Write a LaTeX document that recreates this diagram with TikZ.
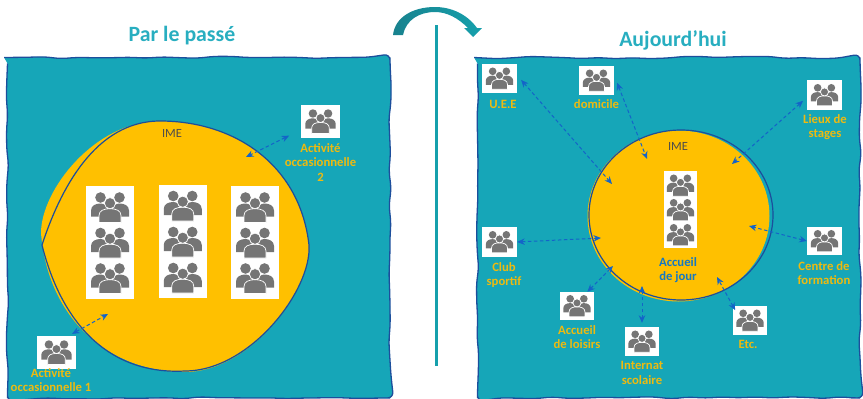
\documentclass[tikz,border=0pt]{standalone}
\usepackage{fontspec}
\setmainfont{Carlito}
\usepackage{tikz}
\usetikzlibrary{arrows.meta}
\usetikzlibrary{decorations.pathmorphing}

\definecolor{panelteal}{RGB}{22,166,184}
\definecolor{titleteal}{RGB}{40,174,192}
\definecolor{turnteal}{RGB}{22,160,172}
\definecolor{turndark}{RGB}{24,130,142}
\definecolor{imeyellow}{RGB}{255,192,0}
\definecolor{labelyellow}{RGB}{238,186,16}
\definecolor{edgeblue}{RGB}{28,78,156}
\definecolor{arrowblue}{RGB}{20,100,200}
\definecolor{icongrey}{RGB}{117,117,117}

\tikzset{people/.pic={
    \fill[icongrey] (-19,9) -- (-19,3) .. controls (-19,-2) and (-14,-4) .. (-9.5,-4) .. controls (-5,-4) and (-3,-1) .. (-3,3) -- (-3,9) -- cycle;
    \fill[icongrey] (19,9) -- (19,3) .. controls (19,-2) and (14,-4) .. (9.5,-4) .. controls (5,-4) and (3,-1) .. (3,3) -- (3,9) -- cycle;
    \fill[icongrey] (-9.5,-10) circle (5.3);
    \fill[icongrey] (9.5,-10) circle (5.3);
    \filldraw[icongrey, draw=white, line width=0.7pt] (-11,15) -- (-11,8) .. controls (-11,3) and (-6,1.2) .. (0,1.2) .. controls (6,1.2) and (11,3) .. (11,8) -- (11,15) -- cycle;
    \filldraw[icongrey, draw=white, line width=0.7pt] (0,-4.3) circle (5.6);
}}

\begin{document}
\begin{tikzpicture}[x=1pt, y=-1pt]
    \def\labeldist{5}
    \tikzstyle{panel}=[fill=panelteal, draw=edgeblue, line width=1.3pt, rounded corners=6pt, decorate, decoration={random steps, segment length=17pt, amplitude=1.2pt}]
    \tikzstyle{heading}=[text=titleteal, font=\fontsize{21.8}{26}\selectfont\bfseries]
    \tikzstyle{iconbox}=[fill=white, inner sep=0pt, minimum width=35pt, minimum height=29pt]
    \tikzstyle{widebox}=[fill=white, inner sep=0pt, minimum width=39pt, minimum height=33pt]
    \tikzstyle{column}=[fill=white, inner sep=0pt, minimum width=48pt, minimum height=113pt]
    \tikzstyle{place}=[text=labelyellow, inner sep=0pt, align=center, anchor=north, font=\fontsize{12.7}{14.5}\selectfont\bfseries]
    \tikzstyle{ime}=[text=black!70, inner sep=0pt, font=\fontsize{12.5}{14}\selectfont]
    \tikzstyle{arrow}=[{Stealth[length=7.5pt, width=6.5pt]}-{Stealth[length=7.5pt, width=6.5pt]}, dash pattern=on 3.5pt off 2.5pt, draw=arrowblue, line width=1pt]

    \useasboundingbox (0,0) rectangle (863,399);
    \pgfmathsetseed{17}

    % panels
    \path[panel] (7.5,57.5) rectangle (390,398);
    \path[panel] (477.5,57.5) rectangle (860,398);

    % turn-over mark
    \shade[left color=turndark, right color=turnteal] (393,35) .. controls (395,17) and (413,7) .. (435,7) .. controls (451,7) and (467,14) .. (477,28) -- (482,28) -- (473,37) -- (464,28) -- (468,28) .. controls (458,18) and (447,12) .. (435,12) .. controls (419,12) and (406,20) .. (403,35) -- cycle;
    \draw[turnteal, line width=3pt] (436,25) -- (436,366);

    % headings
    \node (past) [heading] at (182,36) {Par le passé};
    \node (today) [heading] at (673,40) {Aujourd’hui};

    % IME shapes
    \fill[imeyellow] (41,233) .. controls (41,190) and (95,121) .. (160,121) .. controls (235,121) and (300,165) .. (309,245) .. controls (312,290) and (250,372) .. (185,372) .. controls (110,372) and (48,320) .. (41,233) -- cycle;
    \draw[edgeblue, line width=1.2pt] (42,245) .. controls (60,190) and (95,121) .. (160,121) .. controls (235,121) and (300,165) .. (309,245) .. controls (312,290) and (250,371) .. (185,371) .. controls (110,375) and (62,325) .. (42,245) -- cycle;
    \fill[imeyellow] (678.5,216) ellipse (91 and 85.5);
    \draw[edgeblue, line width=1.2pt] (681,215) ellipse (92 and 85);

    % boxes in the left panel
    \node (col1) [column] at (110,242.5) {};
    \node (col2) [column] at (182.75,241.5) {};
    \node (col3) [column] at (255,242.5) {};
    \node (occ1) [widebox] at (56.5,352.5) {};
    \node (occ2) [widebox] at (320.5,121.5) {};

    % boxes in the right panel
    \node (uee) [iconbox] at (499.5,78.5) {};
    \node (domicile) [iconbox] at (596.5,80.5) {};
    \node (stages) [iconbox, minimum height=30pt] at (824.5,95) {};
    \node (club) [iconbox, minimum height=30pt] at (499.5,242) {};
    \node (formation) [iconbox, minimum height=28pt] at (824.5,241) {};
    \node (loisirs) [iconbox, minimum width=34pt, minimum height=28pt] at (577,306) {};
    \node (internat) [iconbox, minimum width=34pt] at (642,341.5) {};
    \node (etc) [iconbox, minimum width=34pt] at (750,320.5) {};
    \node (jour) [fill=white, inner sep=0pt, minimum width=33pt, minimum height=77pt] at (680.5,209.5) {};

    % icons
    \path (col1)+(0,-35) pic {people};
    \path (col1)+(0,0.5) pic {people};
    \path (col1)+(0,36) pic {people};
    \path (col2)+(0,-35.5) pic {people};
    \path (col2)+(0,0.5) pic {people};
    \path (col2)+(0,36.5) pic {people};
    \path (col3)+(0,-35) pic {people};
    \path (col3)+(0,0.5) pic {people};
    \path (col3)+(0,36) pic {people};
    \path (occ1) pic[scale=0.8] {people};
    \path (occ2) pic[scale=0.8] {people};
    \path (uee) pic[scale=0.72] {people};
    \path (domicile) pic[scale=0.72] {people};
    \path (stages) pic[scale=0.72] {people};
    \path (club) pic[scale=0.72] {people};
    \path (formation) pic[scale=0.72] {people};
    \path (loisirs) pic[scale=0.72] {people};
    \path (internat) pic[scale=0.72] {people};
    \path (etc) pic[scale=0.72] {people};
    \path (jour)+(0,-24) pic[scale=0.72] {people};
    \path (jour)+(0,0.5) pic[scale=0.72] {people};
    \path (jour)+(0,25.5) pic[scale=0.72] {people};

    % captions
    \path (occ1.south)+(-5.5,-1) node (cocc1) [place] {Activité\\occasionnelle 1};
    \path (occ2.south)+(0,\labeldist) node (cocc2) [place] {Activité\\occasionnelle\\2};
    \path (uee.south)+(3.5,7) node (cuee) [place] {U.E.E};
    \path (domicile.south)+(0,4) node (cdomicile) [place] {domicile};
    \path (stages.south)+(0.5,4) node (cstages) [place] {Lieux de\\stages};
    \path (club.south)+(4.5,\labeldist) node (cclub) [place] {Club\\sportif};
    \path (formation.south)+(-0.5,6) node (cformation) [place] {Centre de\\formation};
    \path (loisirs.south)+(0,\labeldist) node (cloisirs) [place] {Accueil\\de loisirs};
    \path (internat.south)+(0,\labeldist) node (cinternat) [place] {Internat\\scolaire};
    \path (etc.south)+(-2,\labeldist) node (cetc) [place] {Etc.};
    \node (imeleft) [ime] at (172,133) {IME};
    \node (imeright) [ime] at (678,146) {IME};
    \node (cjour) [place, text=arrowblue!70!panelteal] at (678,257) {Accueil\\de jour};

    % arrow ends inside the IME
    \coordinate (inocc1) at (108,314);
    \coordinate (inocc2) at (246,157);
    \coordinate (inuee) at (612,184);
    \coordinate (indomicile) at (647,159);
    \coordinate (instages) at (732,164);
    \coordinate (inclub) at (601,238);
    \coordinate (information) at (749,226);
    \coordinate (inloisirs) at (613,266);
    \coordinate (ininternat) at (642,286);
    \coordinate (inetc) at (717,277);

    % arrows
    \draw[arrow, shorten <=4pt] (occ1.54) -- (inocc1);
    \draw[arrow, shorten <=13pt] (occ2.203) -- (inocc2);
    \draw[arrow, shorten <=6pt] (uee.10) -- (inuee);
    \draw[arrow, shorten <=8pt] (domicile.16) -- (indomicile);
    \draw[arrow, shorten <=5pt] (stages.188) -- (instages);
    \draw[arrow] (club.east) -- (inclub);
    \draw[arrow] (formation.west) -- (information);
    \draw[arrow] (loisirs.54) -- (inloisirs);
    \draw[arrow, shorten <=4pt] (internat.north) -- (ininternat);
    \draw[arrow, shorten <=-5pt] (etc.north west) -- (inetc);
\end{tikzpicture}
\end{document}
